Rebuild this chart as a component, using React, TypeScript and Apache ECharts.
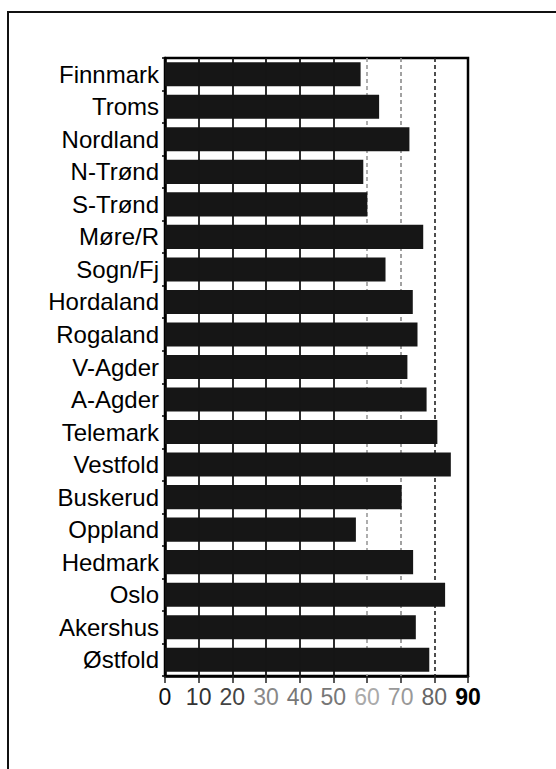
import React, { useEffect, useRef } from "react";
import * as echarts from "echarts";

const counties: string[] = [
  "Finnmark", "Troms", "Nordland", "N-Trønd", "S-Trønd", "Møre/R", "Sogn/Fj",
  "Hordaland", "Rogaland", "V-Agder", "A-Agder", "Telemark", "Vestfold",
  "Buskerud", "Oppland", "Hedmark", "Oslo", "Akershus", "Østfold",
];
const values: number[] = [
  58.1, 63.6, 72.6, 58.9, 60.1, 76.7, 65.5,
  73.6, 75.0, 72.0, 77.7, 80.9, 84.9,
  70.3, 56.7, 73.7, 83.2, 74.5, 78.5,
];
const xTicks: number[] = [0, 10, 20, 30, 40, 50, 60, 70, 80, 90];
const tickGrays: string[] = ["#111", "#333", "#444", "#888", "#777", "#777", "#aaa", "#999", "#666", "#000"];
const solidRefs: number[] = [10, 20, 30, 40, 50];
const dashedRefs: number[] = [60, 70, 80];
const dashedColors: string[] = ["#9a9a9a", "#8a8a8a", "#222"];

export default function App() {
  const ref = useRef<HTMLDivElement>(null);
  useEffect(() => {
    document.body.style.margin = "0";
    if (!ref.current) return;
    const chart = echarts.init(ref.current, undefined, { renderer: "svg" });
    const rich: Record<string, any> = {};
    xTicks.forEach((t, i) => {
      rich["c" + i] = {
        color: tickGrays[i],
        fontSize: 23,
        fontFamily: "Liberation Sans, Arial, sans-serif",
        fontWeight: t === 90 ? "bold" : "normal",
      };
    });
    chart.setOption({
      animation: false,
      backgroundColor: "#fff",
      grid: {
        left: 165,
        right: 88,
        top: 58,
        bottom: 93,
        show: true,
        borderColor: "#000",
        borderWidth: 2.5,
        backgroundColor: "transparent",
      },
      xAxis: {
        type: "value",
        min: 0,
        max: 90,
        interval: 10,
        position: "bottom",
        axisLine: { show: true, lineStyle: { color: "#000", width: 2.5 } },
        axisTick: { show: true, length: 7, lineStyle: { color: "#222", width: 1.5 } },
        axisLabel: {
          margin: 9,
          formatter: (v: number) => {
            const i = xTicks.indexOf(v);
            return "{c" + i + "|" + v + "}";
          },
          rich,
        },
        splitLine: { show: false },
      },
      yAxis: {
        type: "category",
        inverse: true,
        data: counties,
        axisLine: { show: true, lineStyle: { color: "#000", width: 2.5 } },
        axisTick: { show: true, length: 3, lineStyle: { color: "#000", width: 1.5 } },
        axisLabel: {
          color: "#000",
          fontSize: 24,
          fontFamily: "Liberation Sans, Arial, sans-serif",
          margin: 6,
        },
        splitLine: { show: false },
      },
      series: [
        {
          type: "bar",
          data: values,
          barCategoryGap: "26%",
          itemStyle: { color: "#161616" },
          z: 3,
          markLine: {
            z: 1,
            silent: true,
            symbol: ["none", "none"],
            label: { show: false },
            data: dashedRefs.map((v, i) => ({
              xAxis: v,
              lineStyle: { color: dashedColors[i], width: 1.6, type: [4, 3] },
            })),
          },
        },
        {
          type: "line",
          data: [],
          silent: true,
          markLine: {
            z: 6,
            silent: true,
            symbol: ["none", "none"],
            label: { show: false },
            data: solidRefs.map((v) => ({
              xAxis: v,
              lineStyle: { color: "#161616", width: 1.8, type: "solid" },
            })),
          },
        },
      ],
      graphic: [
        {
          type: "polyline",
          shape: { points: [[8, 769], [8, 12], [556, 12]] },
          style: { stroke: "#111", lineWidth: 2, fill: "none" },
          z: 10,
        },
      ],
    });
    return () => chart.dispose();
  }, []);
  return <div ref={ref} style={{ width: 556, height: 769 }} />;
}
